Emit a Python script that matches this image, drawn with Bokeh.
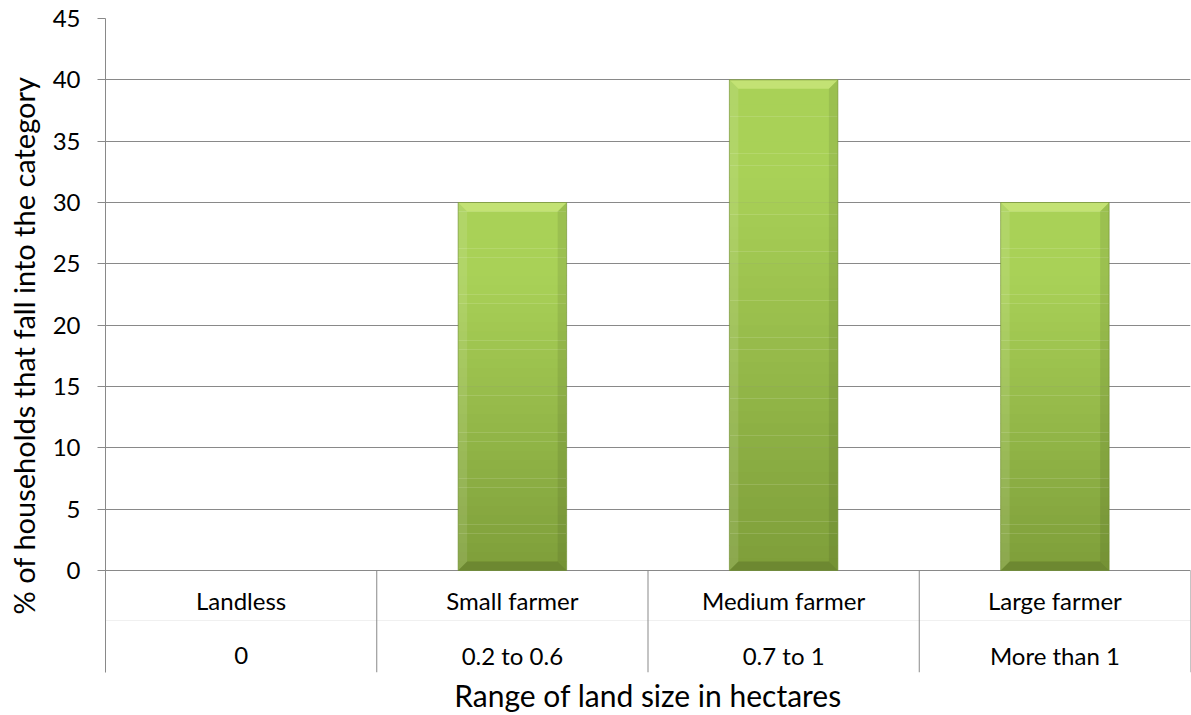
from bokeh.plotting import figure
from bokeh.models import Range1d, FixedTicker, ColumnDataSource
from bokeh.core.properties import value
from bokeh.embed import file_html
from bokeh.resources import INLINE

# ---- data ----
categories = ["Landless", "Small farmer", "Medium farmer", "Large farmer"]
land_ranges = ["0", "0.2 to 0.6", "0.7 to 1", "More than 1"]
values = [0, 30, 40, 30]
y_ticks = [0, 5, 10, 15, 20, 25, 30, 35, 40, 45]
y_max = 45

# ---- layout constants (pixels) ----
W, H = 1191, 715
border_left, border_right, border_top, border_bottom = 105, 1, 18, 43
frame_h = H - border_top - border_bottom
label_band_px = 102           # space under zero line for the two label rows
px_per_unit = (frame_h - label_band_px) / y_max
y_start = -label_band_px / px_per_unit
row1_y = -30 / px_per_unit
row2_y = -85 / px_per_unit
mid_y = -50 / px_per_unit

FONT = value("Lato")
GRID = "#898989"

p = figure(width=W, height=H, output_backend="svg", toolbar_location=None,
           x_range=Range1d(0, len(categories)), y_range=Range1d(y_start, y_max),
           min_border_left=border_left, min_border_right=border_right,
           min_border_top=border_top, min_border_bottom=border_bottom)
p.outline_line_color = None
p.background_fill_color = "white"
p.border_fill_color = "white"
p.xgrid.visible = False

# y axis
p.yaxis.ticker = FixedTicker(ticks=y_ticks)
p.yaxis.axis_line_color = GRID
p.yaxis.major_tick_line_color = GRID
p.yaxis.major_tick_out = 8
p.yaxis.major_tick_in = 0
p.yaxis.minor_tick_line_color = None
p.yaxis.major_label_text_font = "Lato"
p.yaxis.major_label_text_font_size = "24px"
p.yaxis.major_label_text_color = "black"
p.yaxis.major_label_standoff = 17
p.yaxis.axis_label = "% of households that fall into the category"
p.yaxis.axis_label_text_font = "Lato"
p.yaxis.axis_label_text_font_style = "normal"
p.yaxis.axis_label_text_font_size = "29px"
p.yaxis.axis_label_text_color = "black"
p.yaxis.axis_label_standoff = 9
p.ygrid.ticker = FixedTicker(ticks=y_ticks)
p.ygrid.grid_line_color = GRID

# x axis: only the title
p.xaxis.ticker = FixedTicker(ticks=[])
p.xaxis.axis_line_color = None
p.xaxis.major_tick_line_color = None
p.xaxis.minor_tick_line_color = None
p.xaxis.axis_label = "Range of land size in hectares"
p.xaxis.axis_label_text_font = "Lato"
p.xaxis.axis_label_text_font_style = "normal"
p.xaxis.axis_label_text_font_size = "30px"
p.xaxis.axis_label_text_color = "black"
p.xaxis.axis_label_standoff = 4

n = len(categories)
centers = [i + 0.5 for i in range(n)]

# faint line between label rows
p.segment(x0=[0], y0=[mid_y], x1=[n], y1=[mid_y], line_color="#f0f0f0", line_width=1)
# category separators under the axis
p.segment(x0=list(range(1, n + 1)), y0=[0] * n, x1=list(range(1, n + 1)), y1=[y_start] * n,
          line_color=GRID, line_width=1)

# ---- bars with vertical gradient and bevel ----
bar_w = 0.4
N = 40
c_bot = (0x7e, 0x9e, 0x3a)
c_top = (0xa9, 0xd1, 0x57)
qs = dict(left=[], right=[], bottom=[], top=[], color=[])
for c, v in zip(centers, values):
    if v <= 0:
        continue
    for k in range(N):
        t = (k + 0.5) / N
        col = tuple(int(round(c_bot[j] + (c_top[j] - c_bot[j]) * min(1.0, t * 1.25))) for j in range(3))
        qs["left"].append(c - bar_w / 2)
        qs["right"].append(c + bar_w / 2)
        qs["bottom"].append(v * k / N)
        qs["top"].append(v * (k + 1) / N + (0.02 if k < N - 1 else 0))
        qs["color"].append("#%02x%02x%02x" % col)
p.quad(left="left", right="right", bottom="bottom", top="top", fill_color="color",
       line_color=None, source=ColumnDataSource(qs))

bx = 9 / ((W - border_left - border_right) / n)
by = 9 / px_per_unit
tops_x, tops_y, lefts_x, lefts_y, rights_x, rights_y, bots_x, bots_y = [], [], [], [], [], [], [], []
for c, v in zip(centers, values):
    if v <= 0:
        continue
    l, r = c - bar_w / 2, c + bar_w / 2
    tops_x.append([l, r, r - bx, l + bx]); tops_y.append([v, v, v - by, v - by])
    lefts_x.append([l, l + bx, l + bx, l]); lefts_y.append([0, by, v - by, v])
    rights_x.append([r, r - bx, r - bx, r]); rights_y.append([0, by, v - by, v])
    bots_x.append([l, r, r - bx, l + bx]); bots_y.append([0, 0, by, by])
p.patches(tops_x, tops_y, fill_color="#d8f08c", fill_alpha=0.55, line_color=None)
p.patches(lefts_x, lefts_y, fill_color="white", fill_alpha=0.10, line_color=None)
p.patches(rights_x, rights_y, fill_color="black", fill_alpha=0.08, line_color=None)
p.patches(bots_x, bots_y, fill_color="black", fill_alpha=0.14, line_color=None)
bars = dict(x=[c for c, v in zip(centers, values) if v > 0], top=[v for v in values if v > 0])
p.vbar(x="x", top="top", bottom=0, width=bar_w, fill_color=None, line_color="#6c8c2c",
       line_alpha=0.6, line_width=1, source=ColumnDataSource(bars))

# ---- two-level category labels ----
p.text(x=centers, y=[row1_y] * n, text=categories, text_align="center", text_baseline="middle",
       text_font=FONT, text_font_size="24px", text_color="black")
p.text(x=centers, y=[row2_y] * n, text=land_ranges, text_align="center", text_baseline="middle",
       text_font=FONT, text_font_size="24px", text_color="black")

open("out.html", "w").write(file_html(p, INLINE))
